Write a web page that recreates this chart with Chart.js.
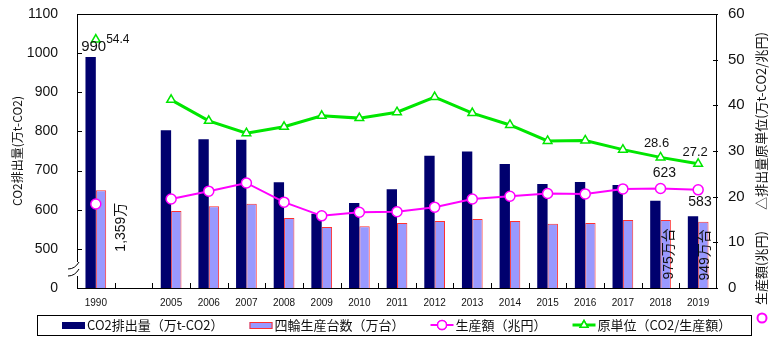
<!DOCTYPE html>
<html>
<head>
<meta charset="utf-8">
<script src="https://cdn.jsdelivr.net/npm/chart.js@4"></script>
<style>
  body { margin: 0; background: #fff; }
  #wrap { width: 780px; height: 340px; }
</style>
</head>
<body>
<div id="wrap"><canvas id="co2Chart"></canvas></div>
<script>
const anos = ["1990", "", "2005", "2006", "2007", "2008", "2009", "2010", "2011",
  "2012", "2013", "2014", "2015", "2016", "2017", "2018", "2019"];

// left axis is broken: the bottom tick (400) is shown as "0"
const co2Data = [990, null, 803, 780, 779, 670, 590, 617, 652, 738, 749, 717, 666, 671, 663, 623, 583];
const unidadesData = [650, null, 597, 609, 615, 579, 556, 558, 566, 571, 576, 571, 564, 566, 574, 574, 569];
const producaoData = [18.4, null, 19.5, 21.2, 23.0, 18.8, 15.8, 16.6, 16.7, 17.7, 19.5, 20.1, 20.7, 20.6, 21.7, 21.8, 21.5];
const unidadeBaseData = [54.4, null, 41.2, 36.6, 33.9, 35.3, 37.7, 37.2, 38.5, 41.8, 38.3, 35.7, 32.2, 32.3, 30.3, 28.6, 27.2];

const FONT = "'Liberation Sans', 'Noto Sans CJK JP', sans-serif";
const JP = "'Noto Sans CJK JP', sans-serif";

// text written onto the chart next to some marks
const rotulos = [
  { ds: 0, i: 0, text: "990", dx: 3, dy: -10, size: 15 },
  { ds: 3, i: 0, text: "54.4", dx: 22, dy: 0, size: 12 },
  { ds: 1, i: 0, text: "1,359万", dx: 20, dy: 37, size: 14, rot: true },
  { ds: 3, i: 15, text: "28.6", dx: -4, dy: -14, size: 13 },
  { ds: 3, i: 16, text: "27.2", dx: -3, dy: -11, size: 13 },
  { ds: 0, i: 15, text: "623", dx: 9, dy: -28, size: 14 },
  { ds: 0, i: 16, text: "583", dx: 7, dy: -14, size: 14 },
  { ds: 1, i: 15, text: "975万台", dx: 3, dy: 34, size: 14, rot: true },
  { ds: 1, i: 16, text: "949万台", dx: 2, dy: 33, size: 14, rot: true }
];

// drop the label overhang padding so the plot box sits where the layout says
const semPadding = s => { s.paddingTop = 0; s.paddingBottom = 0; s.paddingLeft = 0; s.paddingRight = 0; };

const extras = {
  id: "extras",
  afterDraw(chart) {
    const ctx = chart.ctx;
    const a = chart.chartArea;
    const y = chart.scales.y, y1 = chart.scales.y1;
    ctx.save();
    ctx.strokeStyle = "#000";
    ctx.lineWidth = 1;
    ctx.strokeRect(a.left + 0.5, a.top + 0.5, a.right - a.left - 1, a.bottom - a.top);

    // inward tick marks
    ctx.beginPath();
    const w = (a.right - a.left) / anos.length;
    for (let k = 1; k < anos.length; k++) {
      const px = Math.round(a.left + k * w) + 0.5;
      ctx.moveTo(px, a.bottom); ctx.lineTo(px, a.bottom - 5);
    }
    y.ticks.forEach(t => {
      const py = Math.round(y.getPixelForValue(t.value)) + 0.5;
      ctx.moveTo(a.left, py); ctx.lineTo(a.left + 5, py);
    });
    y1.ticks.forEach(t => {
      const py = Math.round(y1.getPixelForValue(t.value)) + 0.5;
      ctx.moveTo(a.right - 4, py); ctx.lineTo(a.right + 1, py);
    });
    ctx.stroke();

    // broken axis mark
    ctx.fillStyle = "#fff";
    ctx.fillRect(a.left - 2, a.bottom - 26, 5, 14);
    ctx.beginPath();
    ctx.moveTo(a.left - 9, a.bottom - 19); ctx.quadraticCurveTo(a.left - 2, a.bottom - 19, a.left + 2, a.bottom - 26);
    ctx.moveTo(a.left - 9, a.bottom - 12); ctx.quadraticCurveTo(a.left - 2, a.bottom - 12, a.left + 2, a.bottom - 19);
    ctx.stroke();

    // value labels
    ctx.fillStyle = "#111";
    ctx.textAlign = "center";
    ctx.textBaseline = "middle";
    rotulos.forEach(r => {
      const el = chart.getDatasetMeta(r.ds).data[r.i];
      ctx.font = r.size + "px " + FONT;
      ctx.save();
      ctx.translate(el.x + r.dx, el.y + r.dy);
      if (r.rot) ctx.rotate(-Math.PI / 2);
      ctx.fillText(r.text, 0, 0);
      ctx.restore();
    });

    // right axis title, reading bottom to top
    ctx.font = "13px " + JP;
    ctx.save();
    ctx.translate(761, 268);
    ctx.rotate(-Math.PI / 2);
    ctx.fillText("生産額(兆円)", 0, 0);
    ctx.restore();
    ctx.save();
    ctx.translate(761, 121);
    ctx.rotate(-Math.PI / 2);
    ctx.fillText("△排出量原単位(万t-CO2/兆円)", 0, 0);
    ctx.restore();
    ctx.beginPath();
    ctx.strokeStyle = "#ff00ff";
    ctx.lineWidth = 2;
    ctx.arc(762, 318, 4.5, 0, Math.PI * 2);
    ctx.stroke();

    // legend
    const ly = 325;
    ctx.strokeStyle = "#000";
    ctx.lineWidth = 1;
    ctx.strokeRect(37.5, 315.5, 714, 20);
    ctx.font = "13px " + JP;
    ctx.textAlign = "left";
    let lx = 62;
    chart.data.datasets.forEach(ds => {
      if (ds.type === "bar") {
        ctx.fillStyle = ds.backgroundColor;
        ctx.fillRect(lx, ly - 3, 23, 7);
        if (ds.borderWidth) {
          ctx.strokeStyle = ds.borderColor;
          ctx.strokeRect(lx + 0.5, ly - 2.5, 22, 6);
        }
      } else {
        ctx.strokeStyle = ds.borderColor;
        ctx.lineWidth = ds.borderWidth;
        ctx.beginPath();
        ctx.moveTo(lx, ly); ctx.lineTo(lx + 23, ly);
        ctx.stroke();
        ctx.lineWidth = 1.5;
        ctx.fillStyle = "#fff";
        Chart.helpers.drawPoint(ctx, { pointStyle: ds.pointStyle, radius: 4.5, borderWidth: 1.5 }, lx + 11.5, ly);
        ctx.fill();
        ctx.stroke();
      }
      ctx.lineWidth = 1;
      ctx.fillStyle = "#111";
      ctx.fillText(ds.label, lx + 25, ly);
      lx += 25 + ctx.measureText(ds.label).width + 26;
    });
    ctx.restore();
  }
};

new Chart(document.getElementById("co2Chart"), {
  data: {
    labels: anos,
    datasets: [
      {
        type: "bar",
        label: "CO2排出量（万t-CO2）",
        data: co2Data,
        yAxisID: "y",
        backgroundColor: "#00006e",
        borderWidth: 0,
        categoryPercentage: 0.55,
        barPercentage: 1,
        order: 2
      },
      {
        type: "bar",
        label: "四輪生産台数（万台）",
        data: unidadesData,
        yAxisID: "y",
        backgroundColor: "#9999ff",
        borderColor: "#ff3030",
        borderWidth: 1,
        categoryPercentage: 0.55,
        barPercentage: 1,
        order: 3
      },
      {
        type: "line",
        label: "生産額（兆円）",
        data: producaoData,
        yAxisID: "y1",
        borderColor: "#ff00ff",
        borderWidth: 2,
        pointStyle: "circle",
        pointRadius: 5,
        pointBorderWidth: 1.5,
        pointBackgroundColor: "#fff",
        pointBorderColor: "#ff00ff",
        spanGaps: false,
        order: 1
      },
      {
        type: "line",
        label: "原単位（CO2/生産額）",
        data: unidadeBaseData,
        yAxisID: "y1",
        borderColor: "#00e600",
        borderWidth: 3,
        pointStyle: "triangle",
        pointRadius: 5,
        pointBorderWidth: 1.5,
        pointBackgroundColor: "#fff",
        pointBorderColor: "#00e600",
        spanGaps: false,
        order: 0
      }
    ]
  },
  options: {
    responsive: true,
    maintainAspectRatio: false,
    animation: false,
    layout: { padding: { top: 14, bottom: 30, left: 0, right: 0 } },
    plugins: {
      legend: { display: false },
      tooltip: { enabled: false }
    },
    scales: {
      x: {
        grid: { display: false, drawTicks: false },
        border: { display: false },
        ticks: { font: { size: 10, family: FONT }, color: "#111", padding: 9, maxRotation: 0, autoSkip: false },
        afterFit: s => { s.height = 22; semPadding(s); }
      },
      y: {
        position: "left",
        min: 400,
        max: 1100,
        grid: { display: false, drawTicks: false },
        border: { display: false },
        ticks: {
          stepSize: 100,
          padding: 19,
          font: { size: 14, family: FONT },
          color: "#111",
          callback: v => (v === 400 ? "0" : v)
        },
        title: {
          display: true,
          text: "CO2排出量(万t-CO2)",
          font: { size: 12, family: JP },
          color: "#111",
          padding: { top: 10, bottom: 0 }
        },
        afterFit: s => { s.width = 77; semPadding(s); }
      },
      y1: {
        position: "right",
        min: 0,
        max: 60,
        grid: { display: false, drawTicks: false },
        border: { display: false },
        ticks: { stepSize: 10, padding: 11, font: { size: 15, family: FONT }, color: "#111" },
        afterFit: s => { s.width = 63; semPadding(s); }
      }
    }
  },
  plugins: [extras]
});
</script>
</body>
</html>
